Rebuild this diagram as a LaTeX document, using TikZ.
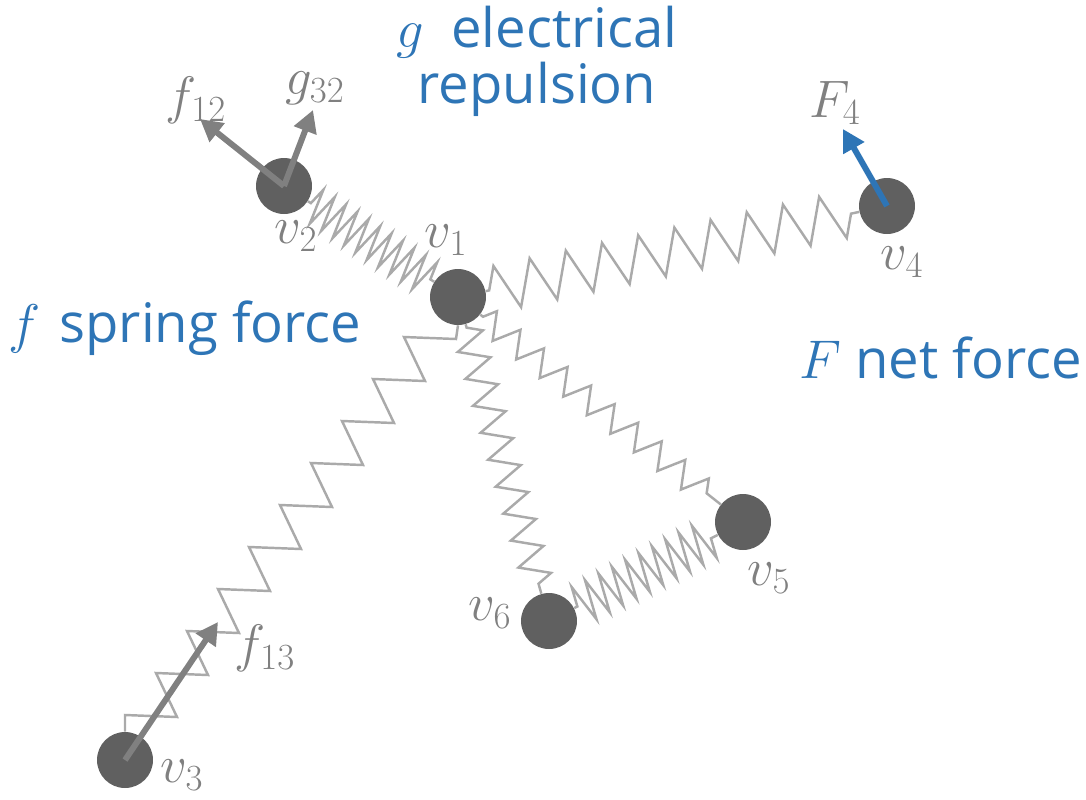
\RequirePackage{fix-cm}
\documentclass[tikz,border=0pt]{standalone}
\usepackage{fontspec}
\setmainfont{Open Sans}
\usepackage{tikz}
\usetikzlibrary{arrows.meta,decorations.pathmorphing,calc}
\definecolor{ballgray}{RGB}{96,96,96}
\definecolor{springgray}{RGB}{170,170,170}
\definecolor{forcegray}{RGB}{128,128,128}
\definecolor{netblue}{RGB}{46,117,182}

\begin{document}
\begin{tikzpicture}[
  x=0.02cm, y=-0.02cm,
  ball/.style={circle, fill=ballgray, minimum size=1.12cm, inner sep=0pt},
  spring/.style={draw=springgray, line width=1.4pt, decorate,
    decoration={zigzag, pre length=2pt, post length=2pt, #1}},
  force/.style={draw=forcegray, line width=3.4pt, -{Triangle[length=0.44cm, width=0.46cm]}},
  netforce/.style={force, draw=netblue, fill=netblue},
  lbl/.style={text=forcegray, font=\fontsize{30}{34}\selectfont},
  caption/.style={text=netblue, inner sep=0pt, font=\fontsize{31}{32}\selectfont},
]
\useasboundingbox (0,0) rectangle (1086,799);

\node[ball] (v1) at (458,297) {};
\node[ball] (v2) at (284,186) {};
\node[ball] (v3) at (125,760) {};
\node[ball] (v4) at (887,206) {};
\node[ball] (v5) at (743,522) {};
\node[ball] (v6) at (549,621) {};

\draw[spring={segment length=0.27cm, amplitude=0.36cm}] (v2) -- (v1);
\draw[spring={segment length=0.74cm, amplitude=0.46cm}] (v1) -- (v4);
\draw[spring={segment length=0.6cm, amplitude=0.26cm}] (v1) -- (v5);
\draw[spring={segment length=0.56cm, amplitude=0.3cm}] (v1) -- (v6);
\draw[spring={segment length=0.3cm, amplitude=0.4cm}] (v6) -- (v5);
\draw[draw=springgray, line width=1.4pt] (v3.north)
  \foreach \k in {0,...,9} { -- ($(v3)+(31*\k,-45-42*\k)$) -- ++(52,2) } -- (v1.south);

\coordinate (t12) at (200,119);
\coordinate (t32) at (313,110);
\coordinate (t13) at (218,622);
\coordinate (t4) at (843,129);
\draw[force] (v2.center) -- (t12);
\draw[force] (v2.center) -- (t32);
\draw[force] (v3.center) -- (t13);
\draw[netforce] (v4.center) -- (t4);

\node[lbl] (lf12) at (196,100) {$f_{12}$};
\node[lbl] (lg32) at (315,88) {$g_{32}$};
\node[lbl] (lF4) at (835,103) {$F_{4}$};
\node[lbl] (lf13) at (265,648) {$f_{13}$};
\node[lbl] (lv1) at (446,240) {$v_{1}$};
\node[lbl] (lv2) at (296,236) {$v_{2}$};
\node[lbl] (lv3) at (182,775) {$v_{3}$};
\node[lbl] (lv4) at (902,262) {$v_{4}$};
\node[lbl] (lv5) at (769,578) {$v_{5}$};
\node[lbl] (lv6) at (490,613) {$v_{6}$};

\node[caption, align=center] (cg) at (537,61) {$g$\enspace electrical\\repulsion};
\node[caption, anchor=base west] (cf) at (8,342) {$f$\hspace{0.35em}spring force};
\node[caption, anchor=base east] (cF) at (1082,378) {$F$\hspace{0.26em}net force};
\end{tikzpicture}
\end{document}
